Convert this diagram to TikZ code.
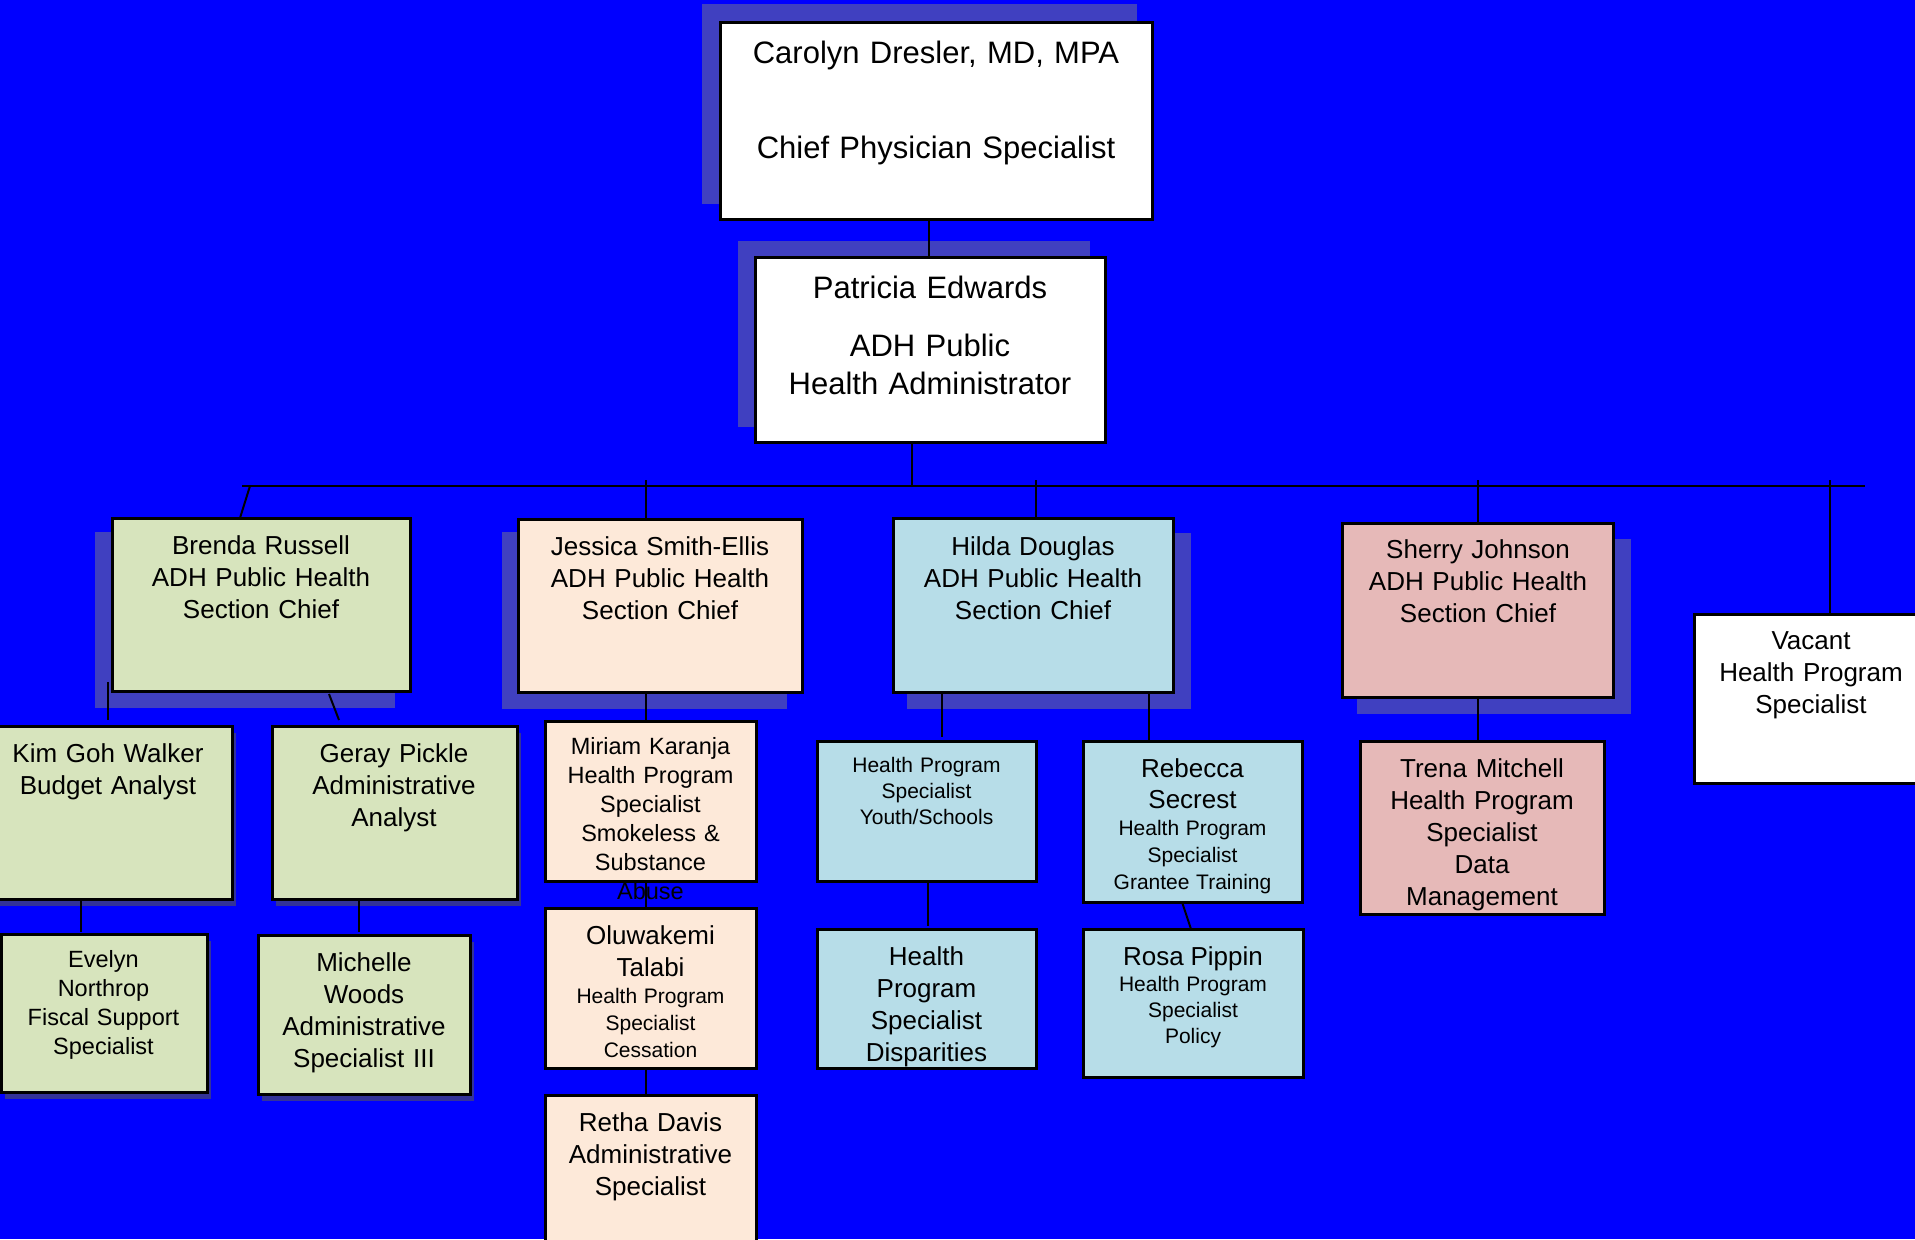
\documentclass[tikz,border=0pt]{standalone}
\usepackage{fontspec}
\setmainfont{Liberation Sans}
\definecolor{bg}{HTML}{0000FF}
\definecolor{shad}{HTML}{4040C0}
\definecolor{shads}{HTML}{333399}
\definecolor{cgreen}{HTML}{D7E4BD}
\definecolor{cpeach}{HTML}{FDE9D9}
\definecolor{cblue}{HTML}{B7DDE8}
\definecolor{cpink}{HTML}{E6B9B8}
\newcommand\obox[6]{\node[bx,#6,minimum width={(#4-(#2))*0.5pt},minimum height={(#5-(#3))*0.5pt}] (#1) at (#2,#3) {};}
\newcommand\tst{\rule{0pt}{0.8em}}
\tikzset{
  bx/.style={draw=black,line width=1.5pt,inner sep=0pt,outer sep=0pt,anchor=north west},
  txt/.style={anchor=north,inner sep=0pt,outer sep=0pt,text width=260pt,align=center,text=black},
  conn/.style={draw=black,line width=1pt},
  busline/.style={draw=black,line width=1.4pt},
  fA/.style={font=\fontsize{15.5}{47.5}\selectfont},
  fP/.style={font=\fontsize{15.5}{19}\selectfont},
  fB/.style={font=\fontsize{13}{16}\selectfont},
  fC/.style={font=\fontsize{11.75}{14.5}\selectfont},
  fD/.style={font=\fontsize{10.5}{13}\selectfont},
}
\begin{document}
\begin{tikzpicture}[x=0.5pt,y=-0.5pt]
\useasboundingbox (0,0) rectangle (1915,1239);
\fill[bg] (0,0) rectangle (1915,1239);
% large shadows
\fill[shad] (702,4) rectangle (1137,204);
\fill[shad] (738,241) rectangle (1090,427);
\fill[shad] (95,532) rectangle (395,708);
\fill[shad] (502,532) rectangle (787,709);
\fill[shad] (907,533) rectangle (1191,709);
\fill[shad] (1357,539) rectangle (1631,714);
% small shadows
\fill[shads] (-12,733) rectangle (236,906);
\fill[shads] (276,733) rectangle (521,906);
\fill[shads] (5,941) rectangle (211,1099);
\fill[shads] (262,942) rectangle (474,1101);
% boxes
\obox{car}{720}{22}{1152}{219}{fill=white}
\obox{pat}{755}{257}{1105}{442}{fill=white}
\obox{bren}{112}{518}{410}{691}{fill=cgreen}
\obox{jess}{518}{519}{802}{692}{fill=cpeach}
\obox{hilda}{893}{518}{1173}{692}{fill=cblue}
\obox{sherry}{1342}{523}{1613}{697}{fill=cpink}
\obox{vac}{1694}{614}{1930}{783}{fill=white}
\obox{kim}{-16}{726}{232}{899}{fill=cgreen}
\obox{geray}{272}{726}{517}{899}{fill=cgreen}
\obox{eve}{1}{934}{207}{1092}{fill=cgreen}
\obox{mich}{258}{935}{470}{1094}{fill=cgreen}
\obox{mir}{545}{721}{756}{881}{fill=cpeach}
\obox{olu}{545}{908}{756}{1068}{fill=cpeach}
\obox{ret}{545}{1095}{756}{1262}{fill=cpeach}
\obox{youth}{817}{741}{1036}{881}{fill=cblue}
\obox{disp}{817}{929}{1036}{1068}{fill=cblue}
\obox{reb}{1083}{741}{1302}{902}{fill=cblue}
\obox{rosa}{1083}{929}{1303}{1077}{fill=cblue}
\obox{trena}{1360}{741}{1604}{914}{fill=cpink}
% connectors
\coordinate (xcp) at (929,0);
\draw[conn] (xcp |- car.south) -- (xcp |- pat.north);
\coordinate (busL) at (242,486);
\coordinate (busR) at (1865,486);
\coordinate (xpb) at (912,0);
\draw[conn] (xpb |- pat.south) -- (xpb |- busL);
\draw[busline] (busL) -- (busR);
\coordinate (xJ) at (646,480);
\coordinate (xH) at (1036,480);
\coordinate (xS) at (1478,480);
\coordinate (xV) at (1830,480);
\draw[conn] (xJ) -- (xJ |- jess.north);
\draw[conn] (xH) -- (xH |- hilda.north);
\draw[conn] (xS) -- (xS |- sherry.north);
\draw[conn] (xV) -- (xV |- vac.north);
\coordinate (bA) at (250,486);
\coordinate (bB) at (240,518);
\draw[conn] (bA) -- (bB);
\coordinate (bk1) at (108,682);
\coordinate (bk2) at (108,720);
\draw[conn] (bk1) -- (bk2);
\coordinate (bg1) at (329,694);
\coordinate (bg2) at (339,720);
\draw[conn] (bg1) -- (bg2);
\coordinate (xke) at (81,932);
\draw[conn] (xke |- kim.south) -- (xke);
\coordinate (xgm) at (359,932);
\draw[conn] (xgm |- geray.south) -- (xgm);
\coordinate (xjm) at (646,0);
\draw[conn] (xjm |- jess.south) -- (xjm |- mir.north);
\draw[conn] (xjm |- mir.south) -- (xjm |- olu.north);
\draw[conn] (xjm |- olu.south) -- (xjm |- ret.north);
\coordinate (xhy) at (942,737);
\draw[conn] (xhy |- hilda.south) -- (xhy);
\coordinate (xyd) at (928,926);
\draw[conn] (xyd |- youth.south) -- (xyd);
\coordinate (xhr) at (1149,0);
\draw[conn] (xhr |- hilda.south) -- (xhr |- reb.north);
\coordinate (rr1) at (1182,902);
\coordinate (rr2) at (1191,929);
\draw[conn] (rr1) -- (rr2);
\draw[conn] (xS |- sherry.south) -- (xS |- trena.north);
% texts
\node[txt,fA] (cart) at (936,38.2) {\tst Carolyn Dresler, MD, MPA\\Chief Physician Specialist};
\node[txt,fP] (patt) at (930,273.2) {\tst Patricia Edwards\\[10pt]ADH Public\\Health Administrator};
\node[txt,fB] (brent) at (261,533.7) {\tst Brenda Russell\\ADH Public Health\\Section Chief};
\node[txt,fB] (jesst) at (660,534.2) {\tst Jessica Smith-Ellis\\ADH Public Health\\Section Chief};
\node[txt,fB] (hildat) at (1033,534.2) {\tst Hilda Douglas\\ADH Public Health\\Section Chief};
\node[txt,fB] (sherryt) at (1478,537.2) {\tst Sherry Johnson\\ADH Public Health\\Section Chief};
\node[txt,fB] (vact) at (1811,628.2) {\tst Vacant\\Health Program\\Specialist};
\node[txt,fB] (kimt) at (108,741.2) {\tst Kim Goh Walker\\Budget Analyst};
\node[txt,fB] (gerayt) at (394,741.2) {\tst Geray Pickle\\Administrative\\Analyst};
\node[txt,fC] (evet) at (103.5,948.2) {\tst Evelyn\\Northrop\\Fiscal Support\\Specialist};
\node[txt,fB] (micht) at (364,950.2) {\tst Michelle\\Woods\\Administrative\\Specialist III};
\node[txt,fC] (mirt) at (650.5,735.7) {\tst Miriam Karanja\\Health Program\\Specialist\\Smokeless \&\\Substance\\Abuse};
\node[txt] (olut) at (650.5,923.2) {{\fontsize{13}{16}\selectfont\tst Oluwakemi\\Talabi\par}{\fontsize{10.5}{13.5}\selectfont Health Program\\Specialist\\Cessation\par}};
\node[txt,fB] (rett) at (650.5,1110.7) {\tst Retha Davis\\Administrative\\Specialist};
\node[txt,fD] (youtht) at (926.5,755.2) {\tst Health Program\\Specialist\\Youth/Schools};
\node[txt,fB] (dispt) at (926.5,944.2) {\tst Health\\Program\\Specialist\\Disparities};
\node[txt] (rebt) at (1192.5,756.2) {{\fontsize{13}{15.5}\selectfont\tst Rebecca\\Secrest\par}{\fontsize{10.5}{13.5}\selectfont Health Program\\Specialist\\Grantee Training\par}};
\node[txt] (rosat) at (1193,944.2) {{\fontsize{13}{16}\selectfont\tst Rosa Pippin\par}{\fontsize{10.5}{13}\selectfont Health Program\\Specialist\\Policy\par}};
\node[txt,fB] (trenat) at (1482,756.2) {\tst Trena Mitchell\\Health Program\\Specialist\\Data\\Management};
\end{tikzpicture}
\end{document}
